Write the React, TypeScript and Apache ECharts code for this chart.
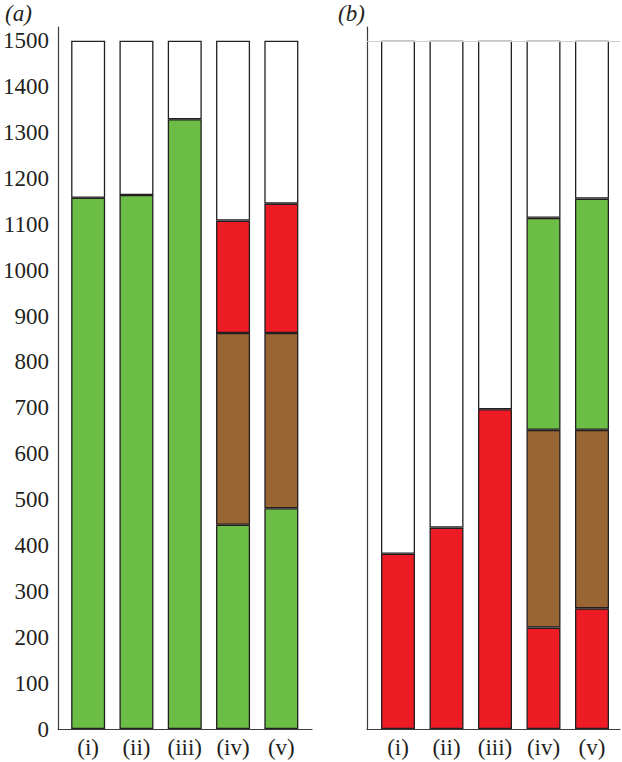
import React, { useEffect, useRef } from "react";
import * as echarts from "echarts";

const categories = ["(i)", "(ii)", "(iii)", "(iv)", "(v)"];
const yTickMax = 1500;
const yTickStep = 100;
const axisTop = 1530;

// Panel (a): cumulative tops of each layer (bottom to top)
const aGreenTop = [1158, 1164, 1329, 445, 481];
const aBrownTop = [null, null, null, 863, 863];
const aRedTop = [null, null, null, 1108, 1145];

// Panel (b): cumulative tops of each layer (bottom to top)
const bRedTop = [382, 439, 697, 221, 263];
const bBrownTop = [null, null, null, 652, 652];
const bGreenTop = [null, null, null, 1114, 1156];

const GREEN = "#6CBD45";
const BROWN = "#996633";
const RED = "#ED1C24";
const WHITE = "#FFFFFF";
const BORDER = "#231F20";
const AXIS = "#3c3c3c";
const FONT = "'Liberation Serif', 'Times New Roman', Times, serif";

type Num = number | null;

function toHeights(tops: Num[][]): (number | string)[][] {
  const out: (number | string)[][] = [];
  const prev = categories.map(() => 0);
  tops.forEach((layer) => {
    out.push(
      layer.map((t, i) => {
        if (t === null) return "-";
        const h = t - prev[i];
        prev[i] = t;
        return h;
      })
    );
  });
  out.push(prev.map((p) => yTickMax - p));
  return out;
}

export default function App() {
  const ref = useRef<HTMLDivElement>(null);
  useEffect(() => {
    document.body.style.margin = "0";
    if (!ref.current) return;
    const chart = echarts.init(ref.current, undefined, { renderer: "svg" });

    const aH = toHeights([aGreenTop, aBrownTop, aRedTop]);
    const bH = toHeights([bRedTop, bBrownTop, bGreenTop]);
    const aColors = [GREEN, BROWN, RED, WHITE];
    const bColors = [RED, BROWN, GREEN, WHITE];

    const mkBars = (heights: (number | string)[][], colors: string[], axisIdx: number, stack: string) =>
      heights.map((d, k) => ({
        type: "bar",
        stack,
        xAxisIndex: axisIdx,
        yAxisIndex: axisIdx,
        barWidth: 34,
        z: 3,
        itemStyle: { color: colors[k], borderColor: BORDER, borderWidth: 1.3 },
        data: d,
      }));

    const frameX = (gi: number) => ({
      type: "value",
      gridIndex: gi,
      min: 0,
      max: 1,
      axisLine: { show: true, lineStyle: { color: AXIS, width: 1.2 } },
      axisTick: { show: false },
      axisLabel: { show: false },
      splitLine: { show: false },
    });
    const barX = (gi: number) => ({
      type: "category",
      gridIndex: gi,
      data: categories,
      axisLine: { show: false },
      axisTick: { show: false },
      axisLabel: { interval: 0, fontFamily: FONT, fontSize: 23, color: BORDER, margin: 7 },
    });
    const frameY = (gi: number, labels: boolean) => ({
      type: "value",
      gridIndex: gi,
      min: 0,
      max: axisTop,
      interval: yTickStep,
      axisLine: { show: true, lineStyle: { color: AXIS, width: 1.2 } },
      axisTick: { show: false },
      splitLine: { show: false },
      axisLabel: {
        show: labels,
        showMaxLabel: false,
        formatter: (v: number) => String(v),
        fontFamily: FONT,
        fontSize: 23,
        color: BORDER,
        margin: 9,
      },
    });
    const barY = (gi: number) => ({
      type: "value",
      gridIndex: gi,
      min: 0,
      max: axisTop,
      show: false,
    });

    const titleStyle = {
      fontFamily: FONT,
      fontStyle: "italic",
      fontWeight: "normal",
      fontSize: 23,
      color: BORDER,
    };

    chart.setOption({
      animation: false,
      backgroundColor: "#ffffff",
      title: [
        { text: "(a)", left: 5, top: 2, padding: 0, textStyle: titleStyle },
        { text: "(b)", left: 338, top: 2, padding: 0, textStyle: titleStyle },
      ],
      grid: [
        { left: 57, top: 27, width: 255, height: 702 },
        { left: 64, top: 27, width: 241.5, height: 702 },
        { left: 367, top: 27, width: 253, height: 702 },
        { left: 373.75, top: 27, width: 242.5, height: 702 },
      ],
      xAxis: [frameX(0), barX(1), frameX(2), barX(3)],
      yAxis: [frameY(0, true), barY(1), frameY(2, false), barY(3)],
      series: [
        ...mkBars(aH, aColors, 1, "a"),
        ...mkBars(bH, bColors, 3, "b"),
        {
          type: "line",
          xAxisIndex: 2,
          yAxisIndex: 2,
          data: [],
          z: 1,
          markLine: {
            silent: true,
            symbol: ["none", "none"],
            label: { show: false },
            lineStyle: { color: "#cfcfcf", type: "solid", width: 1 },
            data: [{ yAxis: yTickMax }],
          },
        },
      ],
    });
    return () => chart.dispose();
  }, []);
  return <div ref={ref} style={{ width: 622, height: 762 }} />;
}
